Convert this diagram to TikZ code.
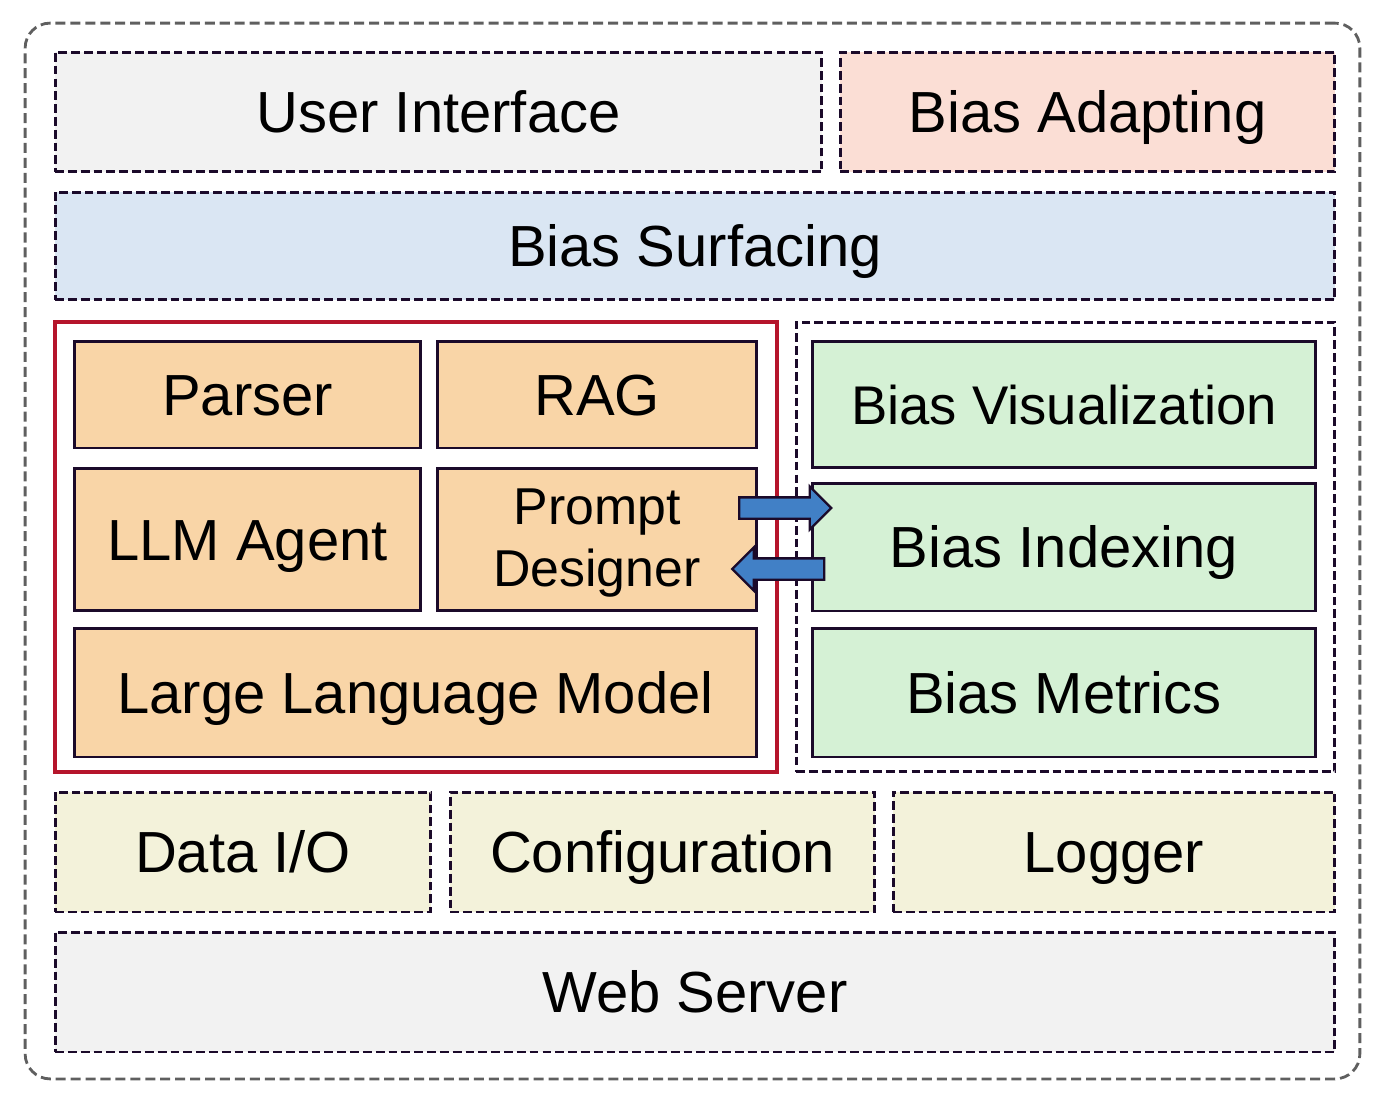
\documentclass[tikz,border=0pt]{standalone}
\usepackage{fontspec}
\setmainfont{Liberation Sans}
\usepackage{tikz}
\usetikzlibrary{positioning,shapes.arrows}
\definecolor{framegray}{HTML}{5F5F5F}
\definecolor{edge}{HTML}{1B0A2A}
\definecolor{lightgray}{HTML}{F2F2F2}
\definecolor{adaptpink}{HTML}{FBDED5}
\definecolor{surfblue}{HTML}{DAE6F3}
\definecolor{coreorange}{HTML}{F9D5A7}
\definecolor{biasgreen}{HTML}{D5F1D5}
\definecolor{basebeige}{HTML}{F3F2DA}
\definecolor{corered}{HTML}{B5152B}
\definecolor{arrowblue}{HTML}{4180C6}

\begin{document}
\begin{tikzpicture}[
  x=0.02cm, y=-0.02cm,
  layer/.style={draw=edge, rectangle, line width=1.7pt, dash pattern=on 5pt off 2.3pt, inner sep=0pt, font=\fontsize{33}{40}\selectfont, text height=23.6pt, text depth=0pt},
  part/.style={draw=edge, rectangle, line width=1.7pt, inner sep=0pt, font=\fontsize{33}{40}\selectfont, text height=23.6pt, text depth=0pt},
  group/.style={rectangle, inner sep=0pt},
  flow/.style={single arrow, draw=edge, fill=arrowblue, line width=1.3pt, minimum height=1.84cm, single arrow head extend=0.22cm, single arrow head indent=0pt, inner xsep=0pt, inner ysep=0.19cm},
]
  \useasboundingbox (0,0) rectangle (1378,1098);
  \node[group, draw=framegray, line width=1.6pt, dash pattern=on 5.7pt off 2.8pt, rounded corners=0.5cm, minimum width=26.7cm, minimum height=21.12cm] (frame) at (692.5,551) {};

  % top layers
  \node[layer, fill=lightgray, minimum width=15.34cm, minimum height=2.4cm] (ui) at (438.5,112) {User Interface};
  \node[layer, fill=adaptpink, minimum width=9.9cm, minimum height=2.4cm] (adapt) at (1087.5,112) {Bias Adapting};
  \node[layer, fill=surfblue, minimum width=25.6cm, minimum height=2.16cm] (surf) at (695,246) {Bias Surfacing};

  % LLM core
  \node[group, draw=corered, line width=2pt, minimum width=14.44cm, minimum height=9cm] (core) at (416,547) {};
  \node[part, fill=coreorange, minimum width=6.94cm, minimum height=2.14cm] (parser) at (247.5,394.5) {Parser};
  \node[part, fill=coreorange, minimum width=6.4cm, minimum height=2.14cm] (rag) at (597,394.5) {RAG};
  \node[part, fill=coreorange, minimum width=6.94cm, minimum height=2.86cm] (agent) at (247.5,539.5) {LLM Agent};
  \node[part, fill=coreorange, minimum width=6.4cm, minimum height=2.86cm] (prompt) at (597,539.5) {};
  \node[align=center, font=\fontsize{29.5}{35}\selectfont, inner sep=0pt] (prompttxt) at (597,543) {Prompt\\Designer};
  \node[part, fill=coreorange, minimum width=13.66cm, minimum height=2.58cm] (llm) at (415.5,692.5) {Large Language Model};

  % bias modules
  \node[layer, minimum width=10.78cm, minimum height=9cm] (bias) at (1065.5,547) {};
  \node[part, fill=biasgreen, minimum width=10.08cm, minimum height=2.54cm, font=\fontsize{31}{37}\selectfont, text height=22.2pt] (vis) at (1064,404.5) {Bias Visualization};
  \node[part, fill=biasgreen, minimum width=10.08cm, minimum height=2.56cm] (index) at (1064,547) {Bias Indexing};
  \node[part, fill=biasgreen, minimum width=10.08cm, minimum height=2.58cm] (metrics) at (1064,692.5) {Bias Metrics};

  \node[flow] (toindex) at (780,508) {};
  \node[flow, shape border rotate=180] (toprompt) at (783.5,569) {};

  % base layers
  \node[layer, fill=basebeige, minimum width=7.52cm, minimum height=2.4cm] (dataio) at (243,852) {Data I/O};
  \node[layer, fill=basebeige, minimum width=8.5cm, minimum height=2.4cm] (config) at (662.5,852) {Configuration};
  \node[layer, fill=basebeige, minimum width=8.84cm, minimum height=2.4cm] (logger) at (1114,852) {Logger};
  \node[layer, fill=lightgray, minimum width=25.6cm, minimum height=2.4cm] (web) at (695,992) {Web Server};
\end{tikzpicture}
\end{document}
